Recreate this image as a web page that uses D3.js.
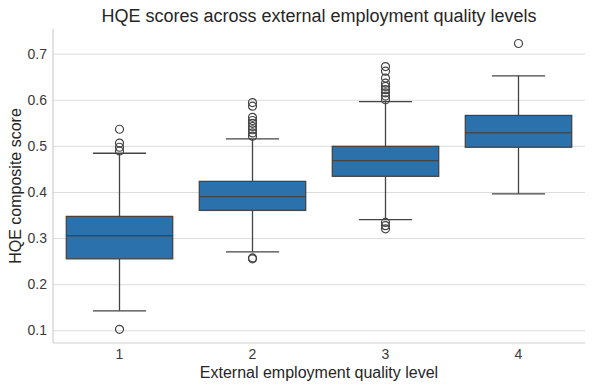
<!DOCTYPE html>
<meta charset="utf-8">
<style>
    body { margin: 0; background: #fff; }
    text { font-family: "Liberation Sans", Arial, sans-serif; fill: #262626; }
    .grid line { stroke: #dcdcdc; stroke-width: 1px; }
    .grid path { stroke-width: 0; }
    .tick text { font-size: 14px; fill: #3a3a3a; }
</style>
<body>
<svg width="595" height="386"></svg>
<script src="https://d3js.org/d3.v7.min.js"></script>
<script>

    // box statistics
    var levels = ["1", "2", "3", "4"];
    var q1 = [0.255, 0.360, 0.434, 0.497];
    var median = [0.305, 0.390, 0.468, 0.528];
    var q3 = [0.347, 0.423, 0.499, 0.566];
    var whiskerLow = [0.142, 0.270, 0.340, 0.396];
    var whiskerHigh = [0.484, 0.515, 0.596, 0.652];
    var outliers = [
        [0.536, 0.506, 0.497, 0.489, 0.102],
        [0.594, 0.586, 0.562, 0.555, 0.549, 0.542, 0.535, 0.528, 0.521, 0.257, 0.255],
        [0.672, 0.662, 0.647, 0.636, 0.629, 0.622, 0.615, 0.608, 0.600, 0.334, 0.327, 0.320],
        [0.722]
    ];
    var yTicks = [0.1, 0.2, 0.3, 0.4, 0.5, 0.6, 0.7];

    var svg = d3.select("svg"),
        margin = {top: 29, right: 10, bottom: 43, left: 53},
        width = +svg.attr("width") - margin.left - margin.right,
        height = +svg.attr("height") - margin.top - margin.bottom,
        g = svg.append("g").attr("transform", "translate(" + margin.left + "," + margin.top + ")");

    var x = d3.scaleBand().domain(levels).range([0, width]).padding(0);
    var y = d3.scaleLinear().domain([0.0724, 0.7535]).range([height, 0]);

    // horizontal grid
    g.append("g")
        .attr("class", "grid")
        .call(d3.axisLeft(y).tickValues(yTicks).tickSize(-width).tickFormat(""));

    // spines
    g.append("line").attr("x1", 0).attr("x2", 0).attr("y1", 0).attr("y2", height)
        .attr("stroke", "#cfcfcf").attr("stroke-width", 1.2);
    g.append("line").attr("x1", 0).attr("x2", width).attr("y1", height).attr("y2", height)
        .attr("stroke", "#cfcfcf").attr("stroke-width", 1.2);

    // tick labels
    var yAxis = g.append("g").call(d3.axisLeft(y).tickValues(yTicks).tickSize(0).tickPadding(6).tickFormat(d3.format(".1f")));
    yAxis.select(".domain").remove();
    var xAxis = g.append("g").attr("transform", "translate(0," + height + ")")
        .call(d3.axisBottom(x).tickSize(0).tickPadding(6));
    xAxis.select(".domain").remove();

    var boxW = x.bandwidth() * 0.8,
        lineColor = "#444444",
        fill = "#2b72ad";

    var boxes = g.selectAll(".box")
        .data(levels)
        .enter().append("g")
        .attr("class", "box")
        .attr("transform", function(d) { return "translate(" + (x(d) + x.bandwidth() / 2) + ",0)"; });

    // whiskers
    boxes.append("line")
        .attr("x1", 0).attr("x2", 0)
        .attr("y1", function(d, i) { return y(whiskerHigh[i]); })
        .attr("y2", function(d, i) { return y(q3[i]); })
        .attr("stroke", lineColor).attr("stroke-width", 1.3);
    boxes.append("line")
        .attr("x1", 0).attr("x2", 0)
        .attr("y1", function(d, i) { return y(q1[i]); })
        .attr("y2", function(d, i) { return y(whiskerLow[i]); })
        .attr("stroke", lineColor).attr("stroke-width", 1.3);

    // caps
    [whiskerHigh, whiskerLow].forEach(function(arr) {
        boxes.append("line")
            .attr("x1", -boxW / 4).attr("x2", boxW / 4)
            .attr("y1", function(d, i) { return y(arr[i]); })
            .attr("y2", function(d, i) { return y(arr[i]); })
            .attr("stroke", lineColor).attr("stroke-width", 1.3);
    });

    // box
    boxes.append("rect")
        .attr("x", -boxW / 2)
        .attr("width", boxW)
        .attr("y", function(d, i) { return y(q3[i]); })
        .attr("height", function(d, i) { return y(q1[i]) - y(q3[i]); })
        .attr("fill", fill)
        .attr("stroke", lineColor).attr("stroke-width", 1.3);

    // median
    boxes.append("line")
        .attr("x1", -boxW / 2).attr("x2", boxW / 2)
        .attr("y1", function(d, i) { return y(median[i]); })
        .attr("y2", function(d, i) { return y(median[i]); })
        .attr("stroke", lineColor).attr("stroke-width", 1.3);

    // fliers
    boxes.selectAll(".flier")
        .data(function(d, i) { return outliers[i]; })
        .enter().append("circle")
        .attr("class", "flier")
        .attr("cy", function(v) { return y(v); })
        .attr("r", 4)
        .attr("fill", "none")
        .attr("stroke", lineColor).attr("stroke-width", 1.2);

    // title and labels
    svg.append("text")
        .attr("x", margin.left + width / 2).attr("y", 22)
        .attr("text-anchor", "middle")
        .style("font-size", "18px")
        .text("HQE scores across external employment quality levels");

    svg.append("text")
        .attr("x", margin.left + width / 2).attr("y", 378)
        .attr("text-anchor", "middle")
        .style("font-size", "16px")
        .text("External employment quality level");

    svg.append("text")
        .attr("transform", "translate(21," + (margin.top + height / 2) + ") rotate(-90)")
        .attr("text-anchor", "middle")
        .style("font-size", "16px")
        .text("HQE composite score");
</script>
</body>
